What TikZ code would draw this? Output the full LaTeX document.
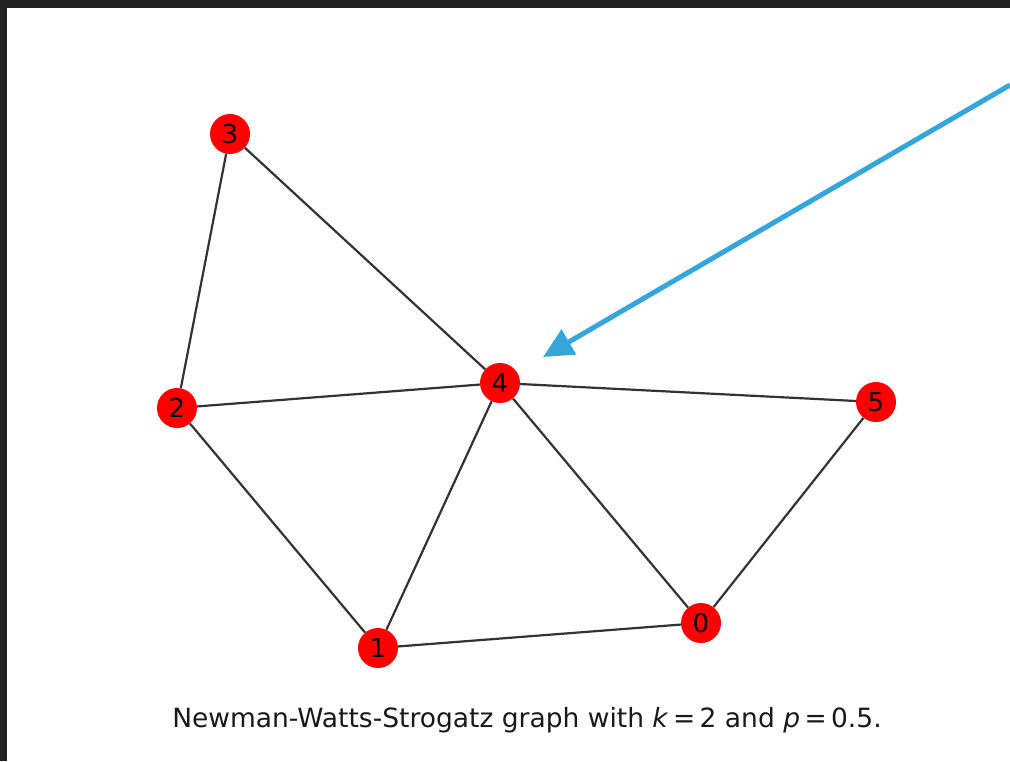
\documentclass[tikz,border=0pt]{standalone}
\usepackage{fontspec}
\setmainfont{DejaVu Sans}
\usetikzlibrary{arrows.meta}
\definecolor{frame}{HTML}{222222}
\definecolor{edgec}{HTML}{333333}
\definecolor{arrowc}{HTML}{35A6DB}
\begin{document}
\begin{tikzpicture}[x=1pt,y=-1pt,
  vert/.style={circle,fill=red,minimum size=40pt,inner sep=0pt,font=\fontsize{26}{26}\selectfont,text=black},
  edge/.style={draw=edgec,line width=2.2pt}]
\useasboundingbox (0,0) rectangle (1010,761);
\fill[frame] (0,0) rectangle (1010,8);
\fill[frame] (0,0) rectangle (7,761);
\node[vert] (n3) at (230,134) {3};
\node[vert] (n2) at (177,408) {2};
\node[vert] (n4) at (500,383) {4};
\node[vert] (n5) at (876,402) {5};
\node[vert] (n1) at (378,648) {1};
\node[vert] (n0) at (701,623) {0};
\draw[edge] (n3) -- (n2);
\draw[edge] (n3) -- (n4);
\draw[edge] (n2) -- (n4);
\draw[edge] (n2) -- (n1);
\draw[edge] (n4) -- (n1);
\draw[edge] (n4) -- (n0);
\draw[edge] (n4) -- (n5);
\draw[edge] (n5) -- (n0);
\draw[edge] (n1) -- (n0);
\coordinate (as) at (1010,85);
\coordinate (ae) at (543,357);
\draw[arrowc,line width=5pt,-{Triangle[length=30pt,width=28pt]}] (as) -- (ae);
\node[font=\fontsize{26.5}{30}\selectfont,text=black!90] (cap) at (527,720) {Newman-Watts-Strogatz graph with \textit{k}\,=\,2 and \textit{p}\,=\,0.5.};
\end{tikzpicture}
\end{document}
